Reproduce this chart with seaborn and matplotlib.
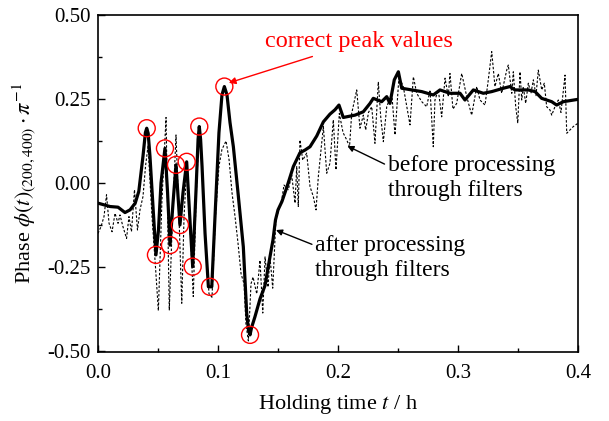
import numpy as np
import pandas as pd
import matplotlib
matplotlib.use("Agg")
import matplotlib.pyplot as plt
from matplotlib.ticker import MultipleLocator, FormatStrFormatter
import seaborn as sns

# Phase signal after filtering (solid curve)
t_filtered = [0.0, 0.010, 0.0167, 0.0225, 0.0267, 0.031, 0.034, 0.0375, 0.0395, 0.0406,
              0.0418, 0.0433, 0.046, 0.0483, 0.0504, 0.0525, 0.0558, 0.058, 0.060, 0.0625,
              0.065, 0.0667, 0.0683, 0.0708, 0.0739, 0.0763, 0.0789, 0.0817, 0.0834, 0.0844,
              0.0855, 0.0867, 0.0892, 0.092, 0.0948, 0.0975, 0.1008, 0.1033, 0.1053, 0.1075,
              0.110, 0.1128, 0.1167, 0.1211, 0.1239, 0.1255, 0.1267, 0.128, 0.1308, 0.135,
              0.1392, 0.1433, 0.1458, 0.1479, 0.150, 0.1533, 0.1575, 0.1628, 0.1683, 0.1725,
              0.1767, 0.1823, 0.1878, 0.1933, 0.1975, 0.2008, 0.2044, 0.2086, 0.2142, 0.2211,
              0.2267, 0.2294, 0.2364, 0.2406, 0.2433, 0.2469, 0.2503, 0.2531, 0.2614, 0.2698,
              0.2794, 0.285, 0.2933, 0.3017, 0.3058, 0.3128, 0.3211, 0.3281, 0.3378, 0.3433,
              0.3475, 0.3586, 0.3642, 0.3697, 0.3781, 0.3822, 0.3878, 0.400]
phase_filtered = [-0.060, -0.070, -0.072, -0.088, -0.080, -0.060, -0.025, 0.080, 0.150, 0.163,
                  0.148, 0.080, -0.080, -0.214, -0.140, 0.000, 0.103, -0.030, -0.185, -0.060,
                  0.054, -0.040, -0.125, -0.030, 0.063, -0.090, -0.249, -0.020, 0.130, 0.168,
                  0.130, 0.050, -0.150, -0.309, -0.309, -0.100, 0.150, 0.262, 0.287, 0.262,
                  0.180, 0.108, -0.030, -0.190, -0.387, -0.440, -0.452, -0.430, -0.398, -0.345,
                  -0.305, -0.220, -0.170, -0.110, -0.080, -0.055, -0.011, 0.049, 0.090, 0.098,
                  0.108, 0.140, 0.182, 0.205, 0.218, 0.232, 0.195, 0.198, 0.202, 0.212,
                  0.237, 0.252, 0.242, 0.257, 0.237, 0.307, 0.331, 0.282, 0.277, 0.272,
                  0.262, 0.277, 0.267, 0.267, 0.247, 0.277, 0.267, 0.272, 0.282, 0.287,
                  0.277, 0.277, 0.272, 0.252, 0.242, 0.232, 0.242, 0.249]

# Raw phase signal before filtering (dotted curve)
t_raw = [0.0, 0.0025, 0.005, 0.0071, 0.0092, 0.0117, 0.0142, 0.0167, 0.0183, 0.0208,
         0.0238, 0.0258, 0.0279, 0.0304, 0.0329, 0.035, 0.0375, 0.0396, 0.0417, 0.045,
         0.0479, 0.0503, 0.0533, 0.0567, 0.0594, 0.0621, 0.065, 0.0675, 0.0698, 0.0717,
         0.0738, 0.0763, 0.0794, 0.0817, 0.0842, 0.0867, 0.0892, 0.0925, 0.095, 0.0979,
         0.1008, 0.1033, 0.1067, 0.1092, 0.1117, 0.1142, 0.1167, 0.1192, 0.1217, 0.1233,
         0.1253, 0.1275, 0.1292, 0.1323, 0.135, 0.1373, 0.1392, 0.1417, 0.1433, 0.1456,
         0.1483, 0.1503, 0.1531, 0.155, 0.1586, 0.1614, 0.1642, 0.1656, 0.1669, 0.1683,
         0.1706, 0.1739, 0.1767, 0.1794, 0.1817, 0.1836, 0.1864, 0.1878, 0.1906, 0.1933,
         0.1961, 0.1983, 0.2011, 0.2042, 0.2073, 0.2096, 0.2114, 0.2156, 0.2183, 0.2211,
         0.2231, 0.2254, 0.2281, 0.2308, 0.2336, 0.2356, 0.2378, 0.2406, 0.2448, 0.2475,
         0.2508, 0.2544, 0.2573, 0.26, 0.2628, 0.2656, 0.2698, 0.2739, 0.2767, 0.2794,
         0.2808, 0.2836, 0.2864, 0.2892, 0.2919, 0.2933, 0.2958, 0.2989, 0.3031, 0.3073,
         0.3114, 0.3156, 0.3183, 0.3225, 0.325, 0.3281, 0.3308, 0.3336, 0.3364, 0.3406,
         0.3419, 0.3448, 0.3461, 0.3481, 0.3498, 0.3517, 0.3531, 0.3544, 0.3564, 0.3586,
         0.3608, 0.3628, 0.365, 0.3669, 0.3698, 0.3719, 0.3739, 0.3767, 0.3781, 0.3808,
         0.3836, 0.3858, 0.3892, 0.3906, 0.3933, 0.3961, 0.400]
phase_raw = [-0.150, -0.130, -0.100, -0.035, -0.120, -0.145, -0.090, -0.120, -0.095, -0.130,
             -0.165, -0.100, -0.145, -0.020, -0.140, -0.080, -0.040, 0.050, 0.110, -0.100,
             -0.250, -0.380, -0.050, 0.195, -0.378, -0.100, 0.143, -0.100, -0.358, -0.100,
             0.040, -0.100, -0.338, -0.050, 0.150, 0.065, -0.150, -0.330, -0.340, -0.100,
             0.050, 0.100, 0.125, 0.070, -0.030, -0.100, -0.180, -0.270, -0.300, -0.420,
             -0.470, -0.300, -0.280, -0.330, -0.230, -0.387, -0.220, -0.310, -0.220, -0.313,
             -0.105, -0.085, -0.050, -0.006, -0.020, 0.024, -0.060, 0.049, -0.070, 0.128,
             0.068, 0.089, -0.011, -0.040, -0.080, 0.019, 0.118, 0.168, 0.029, 0.059,
             0.188, 0.039, 0.207, 0.150, 0.128, 0.108, 0.207, 0.277, 0.163, 0.202,
             0.158, 0.210, 0.227, 0.118, 0.301, 0.197, 0.123, 0.227, 0.267, 0.143,
             0.316, 0.287, 0.227, 0.173, 0.316, 0.267, 0.242, 0.227, 0.277, 0.108,
             0.247, 0.277, 0.197, 0.312, 0.257, 0.326, 0.220, 0.237, 0.326, 0.257,
             0.202, 0.287, 0.247, 0.232, 0.300, 0.391, 0.287, 0.326, 0.267, 0.336,
             0.351, 0.267, 0.331, 0.227, 0.178, 0.331, 0.247, 0.287, 0.237, 0.297,
             0.267, 0.307, 0.260, 0.336, 0.277, 0.297, 0.227, 0.217, 0.202, 0.227,
             0.247, 0.210, 0.321, 0.148, 0.158, 0.168, 0.178]

# Extrema of the filtered curve that are circled
peak_t = [0.0406, 0.0483, 0.0558, 0.060, 0.065, 0.0683, 0.0739, 0.0789, 0.0844, 0.0934,
          0.1053, 0.1267]
peak_phase = [0.163, -0.214, 0.103, -0.185, 0.054, -0.125, 0.063, -0.249, 0.168, -0.309,
              0.287, -0.452]

x_ticks = [0.0, 0.1, 0.2, 0.3, 0.4]
y_ticks = [-0.50, -0.25, 0.00, 0.25, 0.50]

filtered = pd.DataFrame({"t": t_filtered, "phase": phase_filtered})
raw = pd.DataFrame({"t": t_raw, "phase": phase_raw})
peaks = pd.DataFrame({"t": peak_t, "phase": peak_phase})

sns.set_style("ticks")
plt.rcParams["font.family"] = ["Liberation Serif", "DejaVu Serif"]
plt.rcParams["mathtext.fontset"] = "stix"
plt.rcParams["axes.unicode_minus"] = False
plt.rcParams["xtick.direction"] = "in"
plt.rcParams["ytick.direction"] = "in"
plt.rcParams["text.color"] = "black"
plt.rcParams["axes.labelcolor"] = "black"
plt.rcParams["xtick.color"] = "black"
plt.rcParams["ytick.color"] = "black"
plt.rcParams["axes.edgecolor"] = "black"

fig = plt.figure(figsize=(6.09, 4.21), dpi=100)
ax = fig.add_axes([98 / 609, 1 - 352 / 421, 480 / 609, 337 / 421])

sns.lineplot(data=raw, x="t", y="phase", ax=ax, color="black", lw=0.8,
             linestyle=(0, (2.2, 1.6)), sort=False)
sns.lineplot(data=filtered, x="t", y="phase", ax=ax, color="black", lw=2.3,
             sort=False)
sns.scatterplot(data=peaks, x="t", y="phase", ax=ax, s=150, marker="o",
                facecolor="none", edgecolor="red", linewidth=1.0, zorder=5)

ax.set_xlim(0.0, 0.4)
ax.set_ylim(-0.503, 0.5)
ax.set_xticks(x_ticks)
ax.set_yticks(y_ticks)
ax.xaxis.set_minor_locator(MultipleLocator(0.05))
ax.yaxis.set_minor_locator(MultipleLocator(0.125))
ax.xaxis.set_major_formatter(FormatStrFormatter("%.1f"))
ax.yaxis.set_major_formatter(FormatStrFormatter("%.2f"))
ax.tick_params(which="major", length=5, width=1.0, labelsize=15,
               top=False, right=False)
ax.tick_params(axis="x", which="major", pad=9)
ax.tick_params(axis="y", which="major", pad=5)
ax.tick_params(which="minor", length=3, width=1.0, top=False, right=False)
for sp in ax.spines.values():
    sp.set_visible(True)
    sp.set_linewidth(1.2)

ax.set_xlabel(r"Holding time $t$ / h", fontsize=16, labelpad=7)
ax.set_ylabel(r"Phase $\phi(t)_{(200,400)}\cdot\pi^{-1}$", fontsize=16, labelpad=6)

ax.annotate("correct peak values", xy=(0.109, 0.298), xytext=(0.139, 0.42),
            fontsize=17.5, color="red", ha="left", va="center",
            arrowprops=dict(arrowstyle="-|>", color="red", lw=1.0,
                            mutation_scale=10, shrinkA=2, shrinkB=0))
ax.annotate("before processing\nthrough filters", xy=(0.2078, 0.110),
            xytext=(0.2415, 0.016), fontsize=17, ha="left",
            va="center", linespacing=1.25,
            arrowprops=dict(arrowstyle="-|>", color="black", lw=1.0,
                            mutation_scale=9, shrinkA=0, shrinkB=0,
                            relpos=(0.0, 0.76)))
ax.annotate("after processing\nthrough filters", xy=(0.1483, -0.140),
            xytext=(0.181, -0.222), fontsize=17, ha="left",
            va="center", linespacing=1.25,
            arrowprops=dict(arrowstyle="-|>", color="black", lw=1.0,
                            mutation_scale=9, shrinkA=0, shrinkB=0,
                            relpos=(0.0, 0.76)))

fig.savefig("out.png", dpi=100)
